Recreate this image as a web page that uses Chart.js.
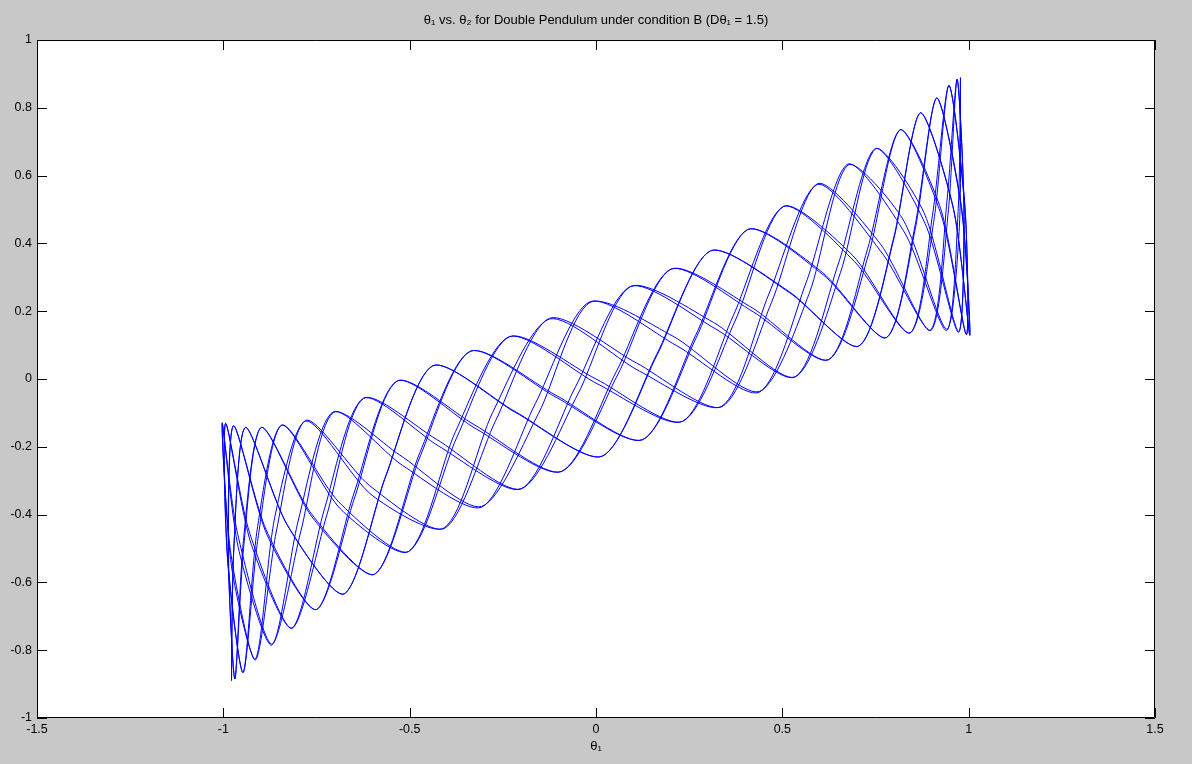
<!DOCTYPE html>
<html>
<head>
<meta charset="utf-8">
<script src="https://cdn.jsdelivr.net/npm/chart.js@4.4.0/dist/chart.umd.min.js"></script>
<style>
  html, body { margin: 0; padding: 0; background: #c8c8c8; }
</style>
</head>
<body>
<canvas id="myChart" width="1192" height="764"></canvas>
<script>
// theta1 / theta2 (time order, out to the bottom-left cusp and back)
const theta1 = [
  0.978, 0.972, 0.941, 0.829, 0.676, 0.564, 0.438, 0.217, -0.016, -0.163,
  -0.307, -0.519, -0.705, -0.798, -0.870, -0.960, -1.003, -0.981, -0.914, -0.857,
  -0.779, -0.608, -0.407, -0.269, -0.125, 0.109, 0.337, 0.471, 0.594, 0.764,
  0.898, 0.945, 0.969, 0.987, 0.973, 0.883, 0.750, 0.650, 0.534, 0.322,
  0.093, -0.055, -0.201, -0.422, -0.624, -0.728, -0.816, -0.927, -0.994, -0.990,
  -0.947, -0.907, -0.843, -0.690, -0.503, -0.373, -0.232, 0, 0.232, 0.373,
  0.503, 0.690, 0.843, 0.907, 0.947, 0.990, 0.994, 0.927, 0.816, 0.728,
  0.624, 0.422, 0.201, 0.055, -0.093, -0.322, -0.534, -0.650, -0.750, -0.883,
  -0.973, -0.987, -0.969, -0.945, -0.898, -0.764, -0.594, -0.471, -0.337, -0.109,
  0.125, 0.269, 0.407, 0.608, 0.779, 0.857, 0.914, 0.981, 1.003, 0.960,
  0.870, 0.798, 0.705, 0.519, 0.307, 0.163, 0.016, -0.217, -0.438, -0.564,
  -0.676, -0.829, -0.941, -0.972, -0.978,
  -0.972, -0.941, -0.829, -0.676, -0.564, -0.438, -0.217, 0.016, 0.164, 0.307,
  0.518, 0.705, 0.798, 0.870, 0.959, 1.003, 0.981, 0.914, 0.856, 0.779,
  0.610, 0.407, 0.267, 0.125, -0.107, -0.337, -0.473, -0.594, -0.762, -0.898,
  -0.946, -0.969, -0.986, -0.973, -0.885, -0.750, -0.648, -0.534, -0.325, -0.093,
  0.058, 0.201, 0.419, 0.624, 0.731, 0.816, 0.925, 0.994, 0.991, 0.947,
  0.904, 0.843, 0.694, 0.503, 0.368, 0.232, 0.005, -0.232, -0.377, -0.503,
  -0.686, -0.843, -0.909, -0.947, -0.988, -0.994, -0.930, -0.816, -0.723, -0.624,
  -0.428, -0.201, -0.048, 0.093, 0.315, 0.534, 0.656, 0.750, 0.880, 0.973,
  0.988, 0.969, 0.942, 0.898, 0.770, 0.594, 0.464, 0.337, 0.117, -0.125,
  -0.277, -0.407, -0.601, -0.779, -0.862, -0.914, -0.978, -1.003, -0.963, -0.870,
  -0.792, -0.705, -0.527, -0.307, -0.154, -0.016, 0.207, 0.438, 0.572, 0.676,
  0.823, 0.941, 0.975, 0.978
];
const theta2 = [
  0.890, 0.503, 0.143, 0.430, 0.634, 0.285, -0.039, 0.098, 0.228, -0.073,
  -0.378, -0.255, -0.097, -0.413, -0.785, -0.497, -0.129, -0.506, -0.829, -0.445,
  -0.122, -0.314, -0.441, -0.122, 0.179, 0.047, -0.082, 0.226, 0.576, 0.397,
  0.143, 0.490, 0.885, 0.509, 0.138, 0.459, 0.680, 0.339, 0.006, 0.147,
  0.273, -0.023, -0.324, -0.198, -0.057, -0.381, -0.735, -0.481, -0.131, -0.510,
  -0.866, -0.470, -0.136, -0.363, -0.509, -0.171, 0.125, 0, -0.125, 0.171,
  0.509, 0.363, 0.136, 0.470, 0.866, 0.510, 0.131, 0.481, 0.735, 0.381,
  0.057, 0.198, 0.324, 0.023, -0.273, -0.147, -0.006, -0.339, -0.680, -0.459,
  -0.138, -0.509, -0.885, -0.490, -0.143, -0.397, -0.576, -0.226, 0.082, -0.047,
  -0.179, 0.122, 0.441, 0.314, 0.122, 0.445, 0.829, 0.506, 0.129, 0.497,
  0.785, 0.413, 0.097, 0.255, 0.378, 0.073, -0.228, -0.098, 0.039, -0.285,
  -0.634, -0.430, -0.143, -0.503, -0.890,
  -0.504, -0.143, -0.429, -0.634, -0.287, 0.039, -0.096, -0.228, 0.071, 0.378,
  0.258, 0.097, 0.408, 0.785, 0.504, 0.129, 0.498, 0.829, 0.452, 0.122,
  0.307, 0.441, 0.128, -0.179, -0.054, 0.082, -0.218, -0.576, -0.407, -0.143,
  -0.476, -0.885, -0.525, -0.138, -0.445, -0.680, -0.351, -0.006, -0.136, -0.273,
  0.012, 0.324, 0.210, 0.057, 0.366, 0.735, 0.502, 0.131, 0.486, 0.866,
  0.492, 0.136, 0.346, 0.509, 0.186, -0.125, -0.015, 0.125, -0.155, -0.509,
  -0.383, -0.136, -0.443, -0.866, -0.542, -0.131, -0.452, -0.735, -0.404, -0.057,
  -0.178, -0.324, -0.043, 0.273, 0.167, 0.006, 0.314, 0.679, 0.491, 0.140,
  0.469, 0.883, 0.528, 0.145, 0.368, 0.574, 0.251, -0.081, 0.023, 0.177,
  -0.098, -0.439, -0.343, -0.124, -0.408, -0.826, -0.554, -0.132, -0.450, -0.782,
  -0.449, -0.099, -0.224, -0.376, -0.101, 0.226, 0.126, -0.037, 0.252, 0.631,
  0.472, 0.147, 0.448, 0.886
];
const xTicks = [-1.5, -1, -0.5, 0, 0.5, 1, 1.5];
const yTicks = [-1, -0.8, -0.6, -0.4, -0.2, 0, 0.2, 0.4, 0.6, 0.8, 1];

const points = theta1.map((x, i) => ({ x: x, y: theta2[i] }));
const font = "'Liberation Sans', Arial, sans-serif";

// grey figure, white axes, black box with inward ticks on all four sides
const frame = {
  id: "frame",
  beforeDraw(chart) {
    const { ctx, chartArea: a } = chart;
    ctx.save();
    ctx.fillStyle = "#c8c8c8";
    ctx.fillRect(0, 0, chart.width, chart.height);
    ctx.fillStyle = "#ffffff";
    ctx.fillRect(a.left, a.top, a.right - a.left, a.bottom - a.top);
    ctx.restore();
  },
  afterDraw(chart) {
    const { ctx, chartArea: a, scales } = chart;
    const len = 10;
    ctx.save();
    ctx.strokeStyle = "#000";
    ctx.lineWidth = 1;
    ctx.beginPath();
    ctx.rect(a.left + 0.5, a.top + 0.5, a.right - a.left - 1, a.bottom - a.top - 1);
    scales.x.ticks.forEach(t => {
      const px = Math.round(scales.x.getPixelForValue(t.value)) + 0.5;
      ctx.moveTo(px, a.bottom); ctx.lineTo(px, a.bottom - len);
      ctx.moveTo(px, a.top); ctx.lineTo(px, a.top + len);
    });
    scales.y.ticks.forEach(t => {
      const py = Math.round(scales.y.getPixelForValue(t.value)) + 0.5;
      ctx.moveTo(a.left, py); ctx.lineTo(a.left + len, py);
      ctx.moveTo(a.right, py); ctx.lineTo(a.right - len, py);
    });
    ctx.stroke();
    ctx.restore();
  }
};

var ctx = document.getElementById("myChart");
var myChart = new Chart(ctx, {
  type: "scatter",
  data: {
    datasets: [
      {
        data: points,
        showLine: true,
        borderColor: "#0000ff",
        borderWidth: 1,
        pointRadius: 0,
        tension: 0.25,
        fill: false,
      },
    ],
  },
  options: {
    responsive: false,
    animation: false,
    layout: { padding: { left: 0, right: 37, top: 0, bottom: 0 } },
    plugins: {
      legend: { display: false },
      tooltip: { enabled: false },
      title: {
        display: true,
        fullSize: false,
        text: "θ₁ vs. θ₂ for Double Pendulum under condition B (Dθ₁ = 1.5)",
        color: "#000",
        font: { family: font, size: 13, weight: "normal" },
        padding: { top: 12.5, bottom: 11.9 },
      },
    },
    scales: {
      x: {
        type: "linear",
        min: -1.5,
        max: 1.5,
        afterBuildTicks: (s) => { s.ticks = xTicks.map(v => ({ value: v })); },
        afterFit: (s) => { s.height = 46; },
        grid: { display: false, drawTicks: false },
        border: { display: false },
        ticks: { color: "#000", font: { family: font, size: 12.5 }, padding: 4, maxRotation: 0, callback: (v) => String(v) },
        title: { display: true, text: "θ₁", color: "#000", font: { family: font, size: 13 }, padding: { top: 10, bottom: 10 } },
      },
      y: {
        type: "linear",
        min: -1,
        max: 1,
        afterBuildTicks: (s) => { s.ticks = yTicks.map(v => ({ value: v })); },
        afterFit: (s) => { s.width = 37; },
        grid: { display: false, drawTicks: false },
        border: { display: false },
        ticks: { color: "#000", font: { family: font, size: 12.5 }, padding: 5, callback: (v) => String(v) },
      },
    },
  },
  plugins: [frame],
});
</script>
</body>
</html>
